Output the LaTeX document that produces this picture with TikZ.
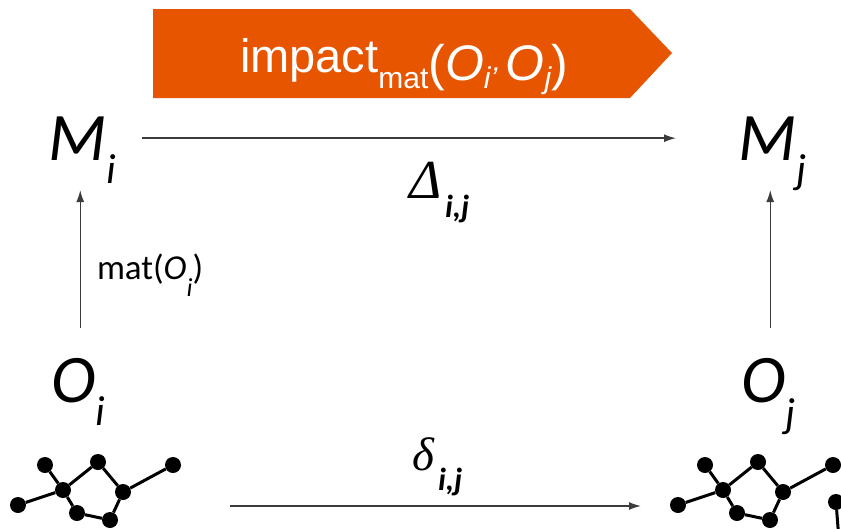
\documentclass[tikz,border=0pt]{standalone}
\usepackage{fontspec}
\setmainfont{Carlito}
\newfontfamily\arialf{Liberation Sans}
\newfontfamily\serff{Liberation Serif}
\usetikzlibrary{arrows.meta}
\definecolor{bannerorange}{RGB}{232,85,0}
\definecolor{arrowgray}{RGB}{60,60,60}
\newcommand\fsz[1]{\fontsize{#1}{#1}\selectfont}
\begin{document}
\begin{tikzpicture}[x=1pt,y=-1pt,
  atom/.style={circle,fill=black,inner sep=0pt,minimum size=16pt},
  bond/.style={line width=3pt,black},
  conn/.style={draw=arrowgray,line width=1.4pt,-{Latex[length=12pt,width=8pt]}},
  lbl/.style={anchor=base west,inner sep=0pt,outer sep=0pt},
  big/.style={lbl,font=\itshape\fsz{68}},
  bigsub/.style={lbl,font=\itshape\fsz{42}},
  ijsub/.style={lbl,font=\bfseries\itshape\fsz{32}}]
\clip (0,0) rectangle (841,528);

% banner
\fill[bannerorange] (153,9) -- (630,9) -- (672,53) -- (630,98) -- (153,98) -- cycle;
\node[lbl,text=white] (impact) at (240,72) {\arialf\fsz{47}impact\raisebox{-16pt}{\fsz{30}mat}\raisebox{-8pt}{\fsz{50}(\textit{O}\raisebox{-8pt}{\fsz{30}\textit{i’}}\kern8pt\textit{O}\raisebox{-8pt}{\fsz{30}\textit{j}})}};

% labels
\node[big] (Mi) at (48,160) {M};
\node[bigsub] (Mis) at ([yshift=-23pt]Mi.base east) {i};
\node[big] (Mj) at (738,160) {M};
\node[bigsub] (Mjs) at ([yshift=-23pt]Mj.base east) {j};
\node[big] (Oi) at (51,402) {O};
\node[bigsub] (Ois) at ([yshift=-23pt]Oi.base east) {i};
\node[big] (Oj) at (741,402) {O};
\node[bigsub] (Ojs) at ([yshift=-25pt]Oj.base east) {j};

\node[lbl,font=\fsz{35}] (mat) at (97,279) {mat(\textit{O}\raisebox{-17pt}{\fsz{26}\textit{i}})};

\node[lbl,font=\serff\itshape\fsz{55}] (Delta) at (409,198) {Δ};
\node[ijsub] (Deltas) at (445,217) {i,j};
\node[lbl,font=\serff\itshape\fsz{47}] (delta) at (412,470) {δ};
\node[ijsub] (deltas) at (438,490) {i,j};

% connectors
\draw[conn,shorten <=36pt,shorten >=62pt] (Mi) -- (Mj);
\draw[conn,shorten <=30pt,shorten >=30pt] ([xshift=7pt]Oi.north) -- ([xshift=7pt]Oi.north |- Mi.south);
\draw[conn,shorten <=30pt,shorten >=30pt] ([xshift=7pt]Oj.north) -- ([xshift=7pt]Oj.north |- Mj.south);

% left molecule
\node[atom] (LA) at (45,465) {};
\node[atom] (LB) at (63,490) {};
\node[atom] (LC) at (18,505) {};
\node[atom] (LD) at (77,513) {};
\node[atom] (LE) at (110,520) {};
\node[atom] (LF) at (123,492) {};
\node[atom] (LG) at (98,462) {};
\node[atom] (LH) at (173,465) {};
\draw[bond] (LA) -- (LB) (LC) -- (LB) (LB) -- (LG) (LG) -- (LF) (LF) -- (LH)
  (LB) -- (LD) (LD) -- (LE) (LE) -- (LF);

% right molecule
\node[atom] (RA) at (705,465) {};
\node[atom] (RB) at (723,490) {};
\node[atom] (RC) at (678,505) {};
\node[atom] (RD) at (737,513) {};
\node[atom] (RE) at (770,520) {};
\node[atom] (RF) at (783,492) {};
\node[atom] (RG) at (758,462) {};
\node[atom] (RH) at (833,465) {};
\node[atom] (RI) at (836,502) {};
\coordinate (RIdown) at (839,540);
\draw[bond] (RA) -- (RB) (RC) -- (RB) (RB) -- (RG) (RG) -- (RF) (RF) -- (RH)
  (RB) -- (RD) (RD) -- (RE) (RE) -- (RF) (RI) -- (RIdown);

% bottom arrow
\coordinate (molL) at (230,506);
\coordinate (molR) at (641,506);
\draw[conn] (molL) -- (molR);
\end{tikzpicture}
\end{document}
